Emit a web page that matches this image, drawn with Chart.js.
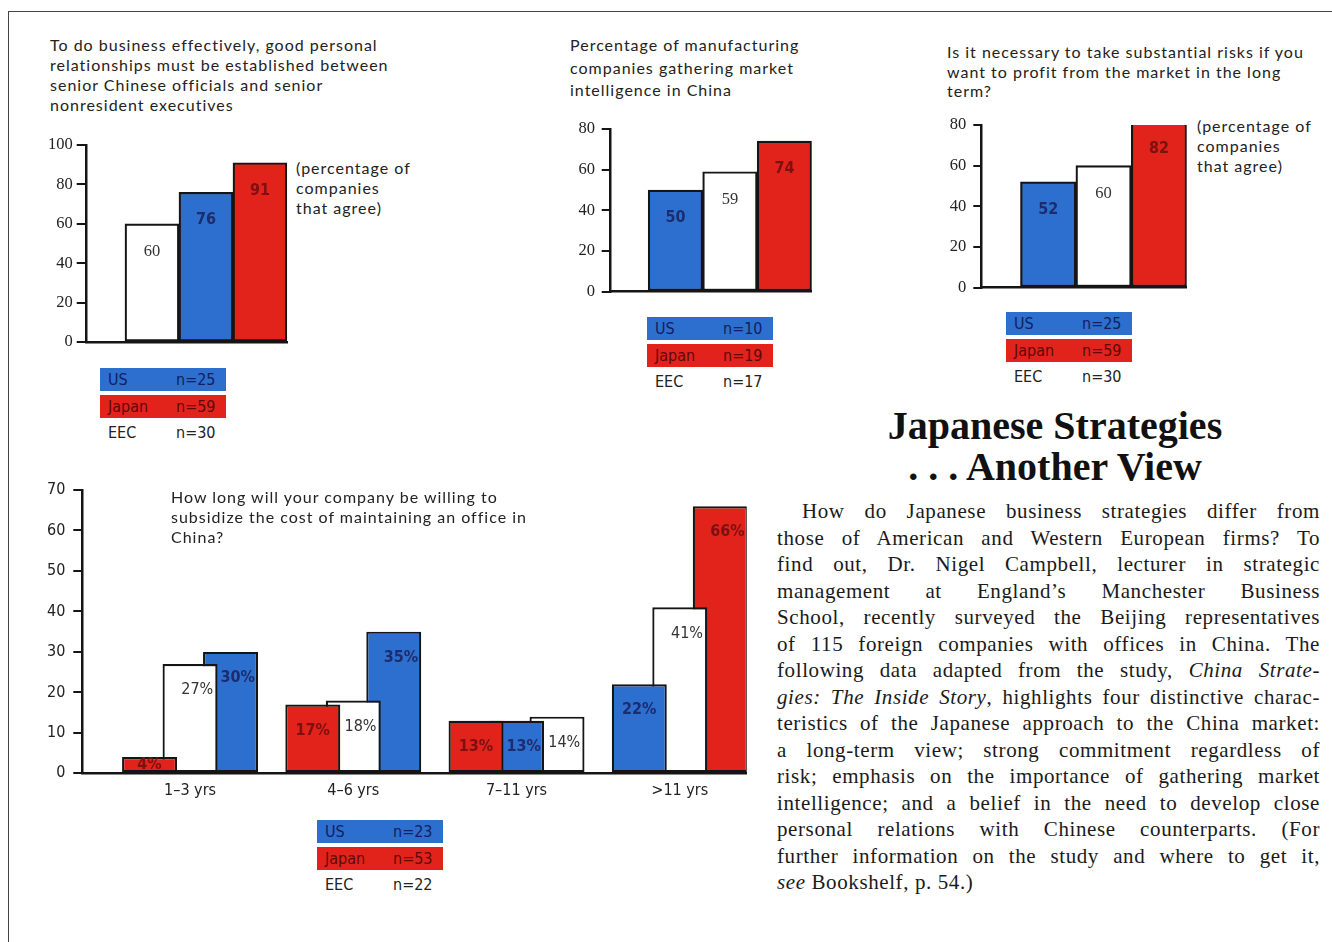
<!DOCTYPE html>
<html>
<head>
<meta charset="utf-8">
<script src="https://cdn.jsdelivr.net/npm/chart.js@4.4.0/dist/chart.umd.min.js"></script>
<style>
  html, body { margin: 0; padding: 0; background: #fff; }
  #page { position: relative; width: 1332px; height: 942px; overflow: hidden; color: #222; font-family: Lato, 'Open Sans', sans-serif; }
  .frame-top { position: absolute; left: 8px; top: 11px; width: 1324px; border-top: 1.5px solid #444; }
  .frame-left { position: absolute; left: 8px; top: 11px; height: 931px; border-left: 1.5px solid #444; }
  canvas { position: absolute; }
  .title { position: absolute; font-size: 16px; letter-spacing: 1px; line-height: 20px; color: #222; white-space: nowrap; }
  .legend { position: absolute; font-family: 'Liberation Sans Narrow', 'DejaVu Sans Condensed', sans-serif; font-size: 16px; }
  .legend .row { position: relative; width: 126px; height: 23px; margin-bottom: 3.5px; }
  .legend .row span { position: absolute; top: 2px; }
  .legend .nm { left: 8px; }
  .legend .nv { left: 76px; }
  .legend .us { background: #2d6fce; color: #122060; }
  .legend .japan { background: #e1231c; color: #5e0808; }
  .legend .eec { color: #222; }
  .article { position: absolute; left: 777px; top: 498px; width: 543px; font-family: 'Liberation Serif', 'Times New Roman', serif; font-size: 21px; line-height: 26.5px; color: #1a1a1a; letter-spacing: 0.6px; }
  .article div { text-align: justify; text-align-last: justify; height: 26.5px; }
  .article div.first { text-indent: 25px; }
  .article div.last { text-align-last: left; }
  .heading { position: absolute; left: 790px; top: 405px; width: 530px; text-align: center; font-family: 'Liberation Serif', 'Times New Roman', serif; font-weight: bold; font-size: 40px; line-height: 41px; color: #111; }
</style>
</head>
<body>
<div id="page">
  <div class="frame-top"></div>
  <div class="frame-left"></div>

  <div class="title" style="left:50px; top:35px;">To do business effectively, good personal<br>relationships must be established between<br>senior Chinese officials and senior<br>nonresident executives</div>
  <div class="title" style="left:296px; top:158px;">(percentage of<br>companies<br>that agree)</div>
  <canvas id="relationsChart" width="290" height="240" style="left:20px; top:125px;"></canvas>
  <div class="legend" id="relationsLegend" style="left:100px; top:368px;"></div>

  <div class="title" style="left:570px; top:34px; line-height:22.5px;">Percentage of manufacturing<br>companies gathering market<br>intelligence in China</div>
  <canvas id="intelChart" width="290" height="200" style="left:540px; top:110px;"></canvas>
  <div class="legend" id="intelLegend" style="left:647px; top:317px;"></div>

  <div class="title" style="left:947px; top:42px; line-height:19.5px;">Is it necessary to take substantial risks if you<br>want to profit from the market in the long<br>term?</div>
  <div class="title" style="left:1197px; top:116px;">(percentage of<br>companies<br>that agree)</div>
  <canvas id="riskChart" width="285" height="200" style="left:920px; top:105px;"></canvas>
  <div class="legend" id="riskLegend" style="left:1006px; top:312px;"></div>

  <canvas id="subsidyChart" width="745" height="340" style="left:20px; top:470px;"></canvas>
  <div class="title" style="left:171px; top:487px;">How long will your company be willing to<br>subsidize the cost of maintaining an office in<br>China?</div>
  <div class="legend" id="subsidyLegend" style="left:317px; top:820px;"></div>

  <div class="heading">Japanese Strategies<br>. . . Another View</div>
  <div class="article">
    <div class="first">How do Japanese business strategies differ from</div>
    <div>those of American and Western European firms? To</div>
    <div>find out, Dr. Nigel Campbell, lecturer in strategic</div>
    <div>management at England’s Manchester Business</div>
    <div>School, recently surveyed the Beijing representatives</div>
    <div>of 115 foreign companies with offices in China. The</div>
    <div>following data adapted from the study, <i>China Strate-</i></div>
    <div><i>gies: The Inside Story</i>, highlights four distinctive charac-</div>
    <div>teristics of the Japanese approach to the China market:</div>
    <div>a long-term view; strong commitment regardless of</div>
    <div>risk; emphasis on the importance of gathering market</div>
    <div>intelligence; and a belief in the need to develop close</div>
    <div>personal relations with Chinese counterparts. (For</div>
    <div>further information on the study and where to get it,</div>
    <div class="last"><i>see</i> Bookshelf, p. 54.)</div>
  </div>
</div>

<script>
// Dados
const countries = ['US', 'Japan', 'EEC'];
const tieOrder = ['Japan', 'US', 'EEC']; // desempate quando dois valores são iguais

const relationsPct = [76, 91, 60];
const relationsN = [25, 59, 30];

const intelPct = [50, 74, 59];
const intelN = [10, 19, 17];

const riskPct = [52, 82, 60];
const riskN = [25, 59, 30];

const periods = ['1–3 yrs', '4–6 yrs', '7–11 yrs', '>11 yrs'];
const subsidyUS = [30, 35, 13, 22];
const subsidyJapan = [4, 17, 13, 66];
const subsidyEEC = [27, 18, 14, 41];
const subsidyN = [23, 53, 22];

const fillColor = { US: '#2d6fce', Japan: '#e1231c', EEC: '#ffffff' };
const textColor = { US: '#1d2c6e', Japan: '#7d1010', EEC: '#333333' };
const INK = '#151515';
const NARROW = '"Liberation Sans Narrow", "DejaVu Sans Condensed", sans-serif';
const SERIF = '"Liberation Serif", "Times New Roman", serif';

// Legendas (caixas coloridas com n)
function buildLegend(id, nValues) {
    const el = document.getElementById(id);
    countries.forEach((c, i) => {
        const row = document.createElement('div');
        row.className = 'row ' + c.toLowerCase();
        row.innerHTML = '<span class="nm">' + c + '</span><span class="nv">n=' + nValues[i] + '</span>';
        el.appendChild(row);
    });
}
buildLegend('relationsLegend', relationsN);
buildLegend('intelLegend', intelN);
buildLegend('riskLegend', riskN);
buildLegend('subsidyLegend', subsidyN);

// As barras de cada grupo aparecem em ordem crescente: monta um dataset por posição
function slotDatasets(byCountry, groupCount) {
    const slots = [0, 1, 2].map(() => ({ data: [], backgroundColor: [], who: [] }));
    for (let g = 0; g < groupCount; g++) {
        const ranked = tieOrder
            .map(c => ({ c: c, v: byCountry[c][g] }))
            .sort((a, b) => a.v - b.v);
        ranked.forEach((r, k) => {
            slots[k].data.push({ x: g, y: r.v });
            slots[k].backgroundColor.push(fillColor[r.c]);
            slots[k].who.push(r.c);
        });
    }
    return slots.map(s => Object.assign(s, {
        borderColor: INK,
        borderWidth: 2.2,
        borderSkipped: false
    }));
}

// Rótulos de valor dentro das barras (centrados na parte visível)
const barLabels = {
    id: 'barLabels',
    afterDatasetsDraw(chart, args, opts) {
        const ctx = chart.ctx;
        chart.data.datasets.forEach((ds, di) => {
            const meta = chart.getDatasetMeta(di);
            meta.data.forEach((bar, i) => {
                const p = bar.getProps(['x', 'y', 'base', 'width'], true);
                let left = p.x - p.width / 2;
                const right = p.x + p.width / 2;
                if (di > 0) {
                    const prev = chart.getDatasetMeta(di - 1).data[i];
                    const prevRight = prev.x + prev.width / 2;
                    if (prevRight > left) left = prevRight;
                }
                const who = ds.who[i];
                const cy = Math.min(p.y + opts.offset, (p.y + p.base) / 2);
                ctx.save();
                ctx.font = opts.fonts[who];
                ctx.fillStyle = textColor[who];
                ctx.textAlign = 'center';
                ctx.textBaseline = 'middle';
                ctx.fillText(ds.data[i].y + opts.suffix, (left + right) / 2, cy);
                ctx.restore();
            });
        });
    }
};

function yAxis(max, step, width, font, tickLen, pad) {
    return {
        min: 0,
        max: max,
        ticks: { stepSize: step, padding: pad, color: '#222', font: font },
        grid: { drawOnChartArea: false, drawTicks: true, tickLength: tickLen, color: INK, lineWidth: 2 },
        border: { color: INK, width: 2.5 },
        afterFit: s => { s.width = width; }
    };
}

// Gráficos pequenos (um grupo de três barras)
function smallChart(id, pct, max, yWidth, tickLen, tickPad, barThickness, padding) {
    const byCountry = {};
    countries.forEach((c, i) => { byCountry[c] = [pct[i]]; });
    return new Chart(document.getElementById(id), {
        type: 'bar',
        data: { datasets: slotDatasets(byCountry, 1) },
        plugins: [barLabels],
        options: {
            responsive: false,
            animation: false,
            layout: { padding: padding },
            barThickness: barThickness,
            scales: {
                x: {
                    type: 'linear',
                    offset: false,
                    min: -2.2,
                    max: 1.5,
                    ticks: { display: false },
                    grid: { display: false, drawTicks: false },
                    border: { color: INK, width: 2.5 },
                    afterFit: s => { s.height = 0; }
                },
                y: yAxis(max, 20, yWidth, { family: SERIF, size: 16.5 }, tickLen, tickPad)
            },
            plugins: {
                legend: { display: false },
                tooltip: { enabled: false },
                barLabels: {
                    offset: 28,
                    suffix: '',
                    fonts: {
                        US: 'bold 16px ' + NARROW,
                        Japan: 'bold 16px ' + NARROW,
                        EEC: '16.5px ' + SERIF
                    }
                }
            }
        }
    });
}

smallChart('relationsChart', relationsPct, 100, 66.7, 10, 4, 54, { top: 20, right: 22.7, bottom: 23, left: 0 });
smallChart('intelChart', intelPct, 80, 70, 8.3, 6.7, 54.5, { top: 19, right: 18.3, bottom: 18.3, left: 0 });
smallChart('riskChart', riskPct, 80, 61.7, 8.4, 7, 55.4, { top: 20, right: 18.3, bottom: 17.3, left: 0 });

// Gráfico grande: subsídio do escritório
new Chart(document.getElementById('subsidyChart'), {
    type: 'bar',
    data: { datasets: slotDatasets({ US: subsidyUS, Japan: subsidyJapan, EEC: subsidyEEC }, periods.length) },
    plugins: [barLabels],
    options: {
        responsive: false,
        animation: false,
        layout: { padding: { top: 20, right: 18.3, bottom: 6.7, left: 0 } },
        categoryPercentage: 0.744,
        barPercentage: 1.358,
        scales: {
            x: {
                type: 'linear',
                offset: false,
                min: -0.66,
                max: 3.41,
                ticks: {
                    stepSize: 1,
                    includeBounds: false,
                    autoSkip: false,
                    maxRotation: 0,
                    padding: 8,
                    color: '#222',
                    font: { family: NARROW, size: 16 },
                    callback: v => (Number.isInteger(v) ? periods[v] : '')
                },
                grid: { display: false, drawTicks: false },
                border: { color: INK, width: 2.5 },
                afterFit: s => { s.height = 30; }
            },
            y: yAxis(70, 10, 62.3, { family: NARROW, size: 16 }, 9, 8)
        },
        plugins: {
            legend: { display: false },
            tooltip: { enabled: false },
            barLabels: {
                offset: 26,
                suffix: '%',
                fonts: {
                    US: 'bold 16px ' + NARROW,
                    Japan: 'bold 16px ' + NARROW,
                    EEC: '16px ' + NARROW
                }
            }
        }
    }
});
</script>
</body>
</html>
